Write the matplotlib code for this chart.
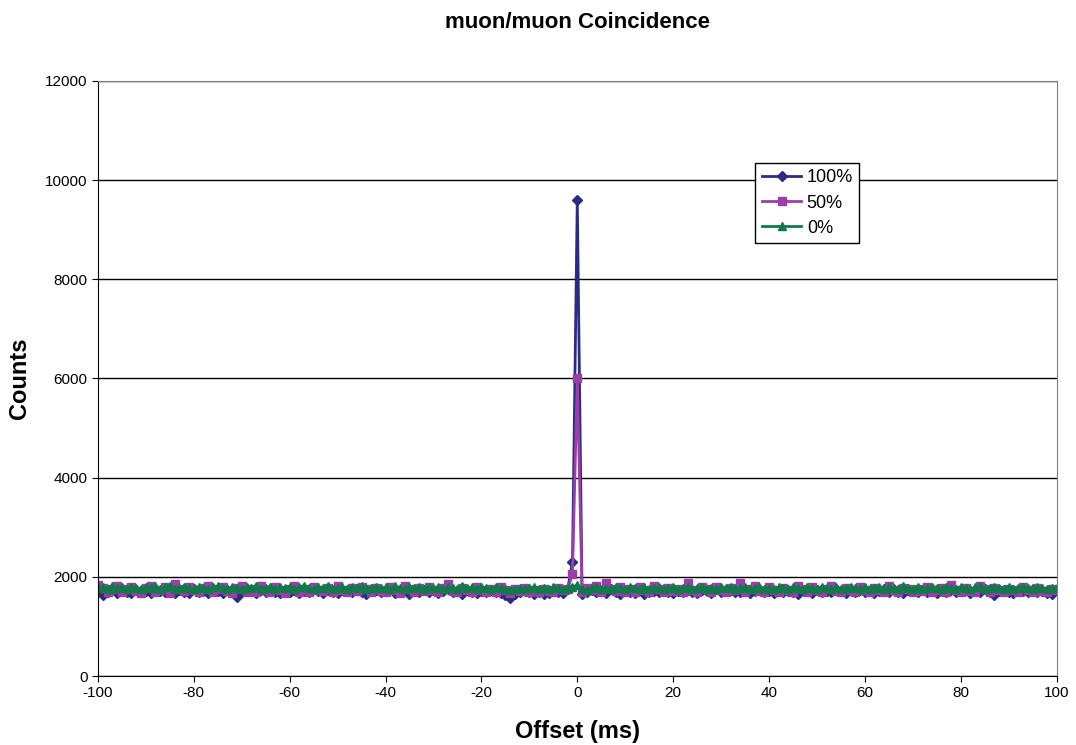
import numpy as np
import matplotlib.pyplot as plt

# offsets in ms
offset = list(range(-100, 101))

# counts
counts_100 = [
    1700, 1640, 1690, 1750, 1680, 1730, 1700, 1670, 1740, 1690,
    1720, 1680, 1750, 1710, 1690, 1730, 1670, 1740, 1700, 1680,
    1750, 1690, 1720, 1670, 1740, 1710, 1680, 1730, 1700, 1590,
    1690, 1740, 1710, 1680, 1730, 1700, 1750, 1690, 1670, 1720,
    1700, 1740, 1680, 1720, 1690, 1750, 1710, 1670, 1730, 1700,
    1680, 1740, 1710, 1690, 1750, 1700, 1660, 1720, 1740, 1690,
    1710, 1750, 1680, 1700, 1730, 1660, 1720, 1690, 1740, 1700,
    1730, 1680, 1710, 1750, 1690, 1720, 1660, 1740, 1700, 1680,
    1720, 1690, 1740, 1700, 1670, 1630, 1580, 1650, 1700, 1720,
    1690, 1660, 1700, 1650, 1680, 1720, 1700, 1670, 1750, 2300,
    9600,
    1650, 1700, 1740, 1690, 1720, 1680, 1750, 1700, 1660, 1730,
    1700, 1680, 1740, 1650, 1700, 1720, 1690, 1750, 1700, 1680,
    1720, 1690, 1740, 1700, 1670, 1730, 1710, 1680, 1750, 1690,
    1710, 1740, 1690, 1700, 1730, 1680, 1720, 1750, 1690, 1710,
    1680, 1740, 1700, 1720, 1690, 1650, 1730, 1710, 1680, 1740,
    1700, 1720, 1690, 1750, 1710, 1680, 1730, 1700, 1740, 1690,
    1720, 1680, 1710, 1750, 1690, 1730, 1700, 1670, 1740, 1710,
    1690, 1730, 1700, 1750, 1680, 1720, 1700, 1740, 1690, 1710,
    1740, 1680, 1720, 1700, 1750, 1690, 1640, 1710, 1730, 1700,
    1680, 1740, 1710, 1690, 1750, 1700, 1720, 1680, 1650, 1730,
]

counts_50 = [
    1830, 1780, 1700, 1760, 1820, 1690, 1750, 1800, 1720, 1680,
    1770, 1820, 1700, 1740, 1790, 1680, 1850, 1760, 1710, 1800,
    1730, 1690, 1780, 1820, 1700, 1750, 1800, 1720, 1680, 1770,
    1810, 1700, 1760, 1690, 1820, 1740, 1700, 1790, 1730, 1680,
    1760, 1810, 1700, 1750, 1690, 1800, 1740, 1710, 1780, 1700,
    1820, 1730, 1690, 1770, 1710, 1800, 1750, 1690, 1780, 1720,
    1700, 1790, 1740, 1680, 1810, 1750, 1700, 1770, 1720, 1800,
    1740, 1690, 1780, 1860, 1720, 1700, 1770, 1740, 1690, 1800,
    1730, 1700, 1760, 1690, 1800, 1740, 1680, 1750, 1710, 1770,
    1700, 1740, 1690, 1760, 1720, 1700, 1780, 1740, 1760, 2050,
    6000,
    1700, 1780, 1740, 1820, 1700, 1880, 1760, 1720, 1800, 1700,
    1750, 1690, 1790, 1740, 1700, 1820, 1760, 1690, 1780, 1720,
    1760, 1700, 1880, 1740, 1690, 1800, 1760, 1700, 1790, 1730,
    1700, 1780, 1740, 1880, 1700, 1760, 1820, 1720, 1690, 1790,
    1740, 1700, 1780, 1730, 1690, 1810, 1760, 1700, 1790, 1740,
    1700, 1760, 1820, 1720, 1690, 1780, 1740, 1700, 1800, 1730,
    1690, 1770, 1740, 1700, 1810, 1730, 1690, 1780, 1750, 1700,
    1760, 1720, 1800, 1690, 1740, 1780, 1700, 1830, 1740, 1690,
    1770, 1720, 1700, 1810, 1750, 1690, 1780, 1740, 1700, 1760,
    1730, 1690, 1800, 1740, 1700, 1770, 1720, 1690, 1760, 1740,
]

counts_0 = [
    1780, 1800, 1760, 1810, 1770, 1790, 1750, 1800, 1780, 1760,
    1790, 1770, 1810, 1750, 1790, 1820, 1760, 1780, 1800, 1770,
    1760, 1800, 1780, 1750, 1790, 1810, 1770, 1760, 1800, 1780,
    1750, 1790, 1770, 1810, 1760, 1780, 1800, 1750, 1790, 1770,
    1800, 1760, 1790, 1820, 1770, 1750, 1790, 1780, 1810, 1760,
    1780, 1800, 1760, 1790, 1770, 1810, 1750, 1780, 1800, 1770,
    1790, 1760, 1810, 1780, 1750, 1800, 1770, 1790, 1760, 1800,
    1770, 1790, 1750, 1800, 1780, 1760, 1810, 1770, 1790, 1760,
    1800, 1780, 1750, 1790, 1770, 1760, 1740, 1760, 1780, 1750,
    1770, 1790, 1760, 1780, 1750, 1790, 1770, 1760, 1780, 1800,
    1830,
    1760, 1740, 1770, 1790, 1760, 1780, 1750, 1790, 1770, 1760,
    1790, 1770, 1750, 1800, 1760, 1780, 1790, 1750, 1770, 1800,
    1760, 1780, 1790, 1750, 1770, 1800, 1760, 1780, 1750, 1790,
    1770, 1800, 1760, 1780, 1790, 1750, 1770, 1800, 1760, 1780,
    1750, 1790, 1770, 1760, 1800, 1780, 1750, 1790, 1770, 1760,
    1800, 1770, 1750, 1790, 1760, 1780, 1800, 1770, 1750, 1790,
    1760, 1780, 1800, 1750, 1790, 1770, 1760, 1810, 1770, 1750,
    1790, 1760, 1780, 1800, 1770, 1750, 1790, 1780, 1760, 1800,
    1770, 1750, 1790, 1810, 1760, 1780, 1800, 1770, 1750, 1790,
    1760, 1780, 1800, 1770, 1750, 1790, 1770, 1760, 1780, 1770,
]

series_names = ['100%', '50%', '0%']

plt.rcParams['font.family'] = ['Liberation Sans', 'DejaVu Sans']
plt.rcParams['axes.unicode_minus'] = False

fig = plt.figure(figsize=(10.76, 7.45), dpi=100)
ax = fig.add_axes([0.091, 0.0926, 0.891, 0.7987])

ax.plot(offset, counts_100, color='#2B2B85', marker='D', markersize=5.5,
        linewidth=2, label=series_names[0])
ax.plot(offset, counts_50, color='#9B3FA8', marker='s', markersize=5.5,
        linewidth=2, label=series_names[1])
ax.plot(offset, counts_0, color='#127A4A', marker='^', markersize=6,
        linewidth=2, label=series_names[2])

ax.set_xlim(-100, 100)
ax.set_ylim(0, 12000)
ax.set_xticks(range(-100, 101, 20))
ax.set_yticks(range(0, 12001, 2000))
ax.tick_params(labelsize=11, direction='out', length=4)
ax.yaxis.grid(True, color='black', linewidth=1)
ax.set_axisbelow(True)
for side in ['top', 'right']:
    ax.spines[side].set_color('#808080')

ax.set_title('muon/muon Coincidence', fontsize=16, fontweight='bold', pad=38)
ax.set_xlabel('Offset (ms)', fontsize=17, fontweight='bold', labelpad=14)
ax.set_ylabel('Counts', fontsize=17, fontweight='bold', labelpad=10)

leg = ax.legend(loc='upper left', bbox_to_anchor=(0.702, 0.781),
                bbox_transform=fig.transFigure, fontsize=13, fancybox=False,
                framealpha=1, edgecolor='black', borderpad=0.35,
                borderaxespad=0, handlelength=2.2, handletextpad=0.3,
                labelspacing=0.45)
leg.get_frame().set_linewidth(1)

fig.savefig('out.png', dpi=100)
